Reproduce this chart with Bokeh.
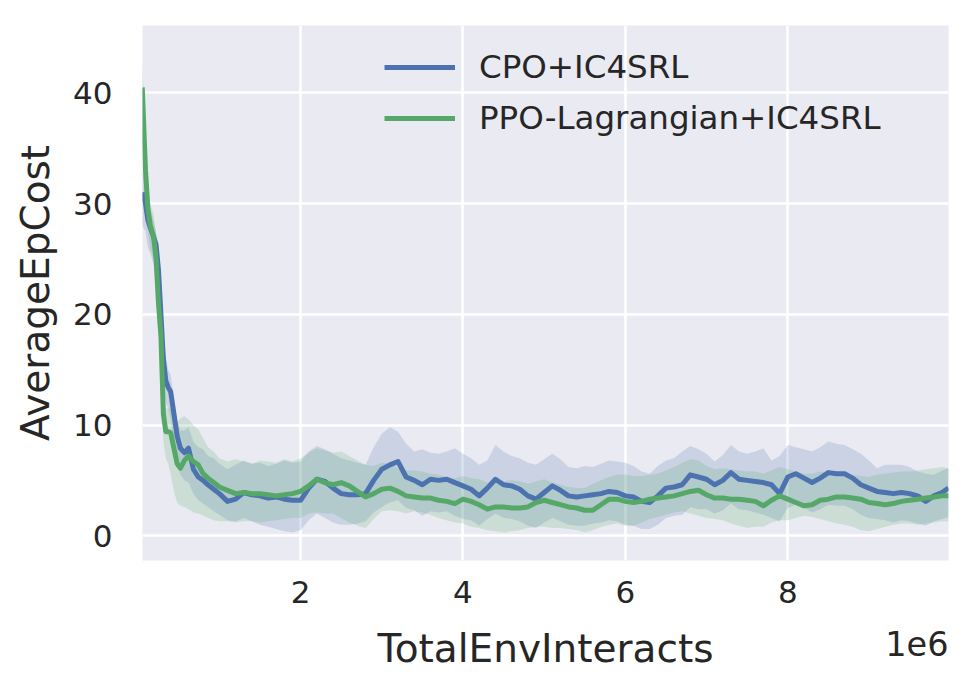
from bokeh.plotting import figure
from bokeh.models import FixedTicker, Legend, LegendItem, Label
from bokeh.embed import file_html
from bokeh.resources import INLINE

# TotalEnvInteracts (units of 1e6)
x = [0.05, 0.09, 0.12, 0.15, 0.19, 0.22, 0.25, 0.28, 0.31, 0.34, 0.37, 0.40,
     0.44, 0.48, 0.52, 0.57, 0.62, 0.68, 0.74, 0.80, 0.86, 0.93, 1.0,
     1.1, 1.2, 1.3, 1.4, 1.5, 1.6, 1.7, 1.8, 1.9, 2.0,
     2.1, 2.2, 2.3, 2.4, 2.5, 2.6, 2.7, 2.8, 2.9, 3.0,
     3.1, 3.2, 3.3, 3.4, 3.5, 3.6, 3.7, 3.8, 3.9, 4.0,
     4.1, 4.2, 4.3, 4.4, 4.5, 4.6, 4.7, 4.8, 4.9, 5.0,
     5.1, 5.2, 5.3, 5.4, 5.5, 5.6, 5.7, 5.8, 5.9, 6.0,
     6.1, 6.2, 6.3, 6.4, 6.5, 6.6, 6.7, 6.8, 6.9, 7.0,
     7.1, 7.2, 7.3, 7.4, 7.5, 7.6, 7.7, 7.8, 7.9, 8.0,
     8.1, 8.2, 8.3, 8.4, 8.5, 8.6, 8.7, 8.8, 8.9, 9.0,
     9.1, 9.2, 9.3, 9.4, 9.5, 9.6, 9.7, 9.8, 9.9, 9.98]

# CPO+IC4SRL
cpo_mean = [31, 30, 28.5, 27.8, 27, 26.3, 24, 20, 16, 14, 13.4, 13,
            11, 9, 7.9, 7.5, 7.9, 6, 5.3, 5.0, 4.6, 4.2, 3.8,
            3.1, 3.3, 3.9, 3.7, 3.6, 3.4, 3.5, 3.3, 3.2, 3.2,
            4.3, 5.1, 4.9, 4.3, 3.8, 3.7, 3.7, 3.8, 5.0, 6.0,
            6.4, 6.7, 5.3, 5.0, 4.6, 5.1, 5.0, 5.1, 4.8, 4.5,
            4.2, 3.6, 4.3, 5.1, 4.6, 4.5, 4.2, 3.6, 3.3, 3.9,
            4.5, 4.1, 3.6, 3.5, 3.6, 3.7, 3.8, 4.0, 3.9, 3.6,
            3.5, 3.1, 3.0, 3.6, 4.3, 4.4, 4.6, 5.5, 5.3, 5.1,
            4.6, 5.0, 5.7, 5.1, 5.0, 4.9, 4.8, 4.6, 3.8, 5.3,
            5.6, 5.2, 4.8, 5.2, 5.7, 5.6, 5.6, 5.2, 4.6, 4.3,
            4.0, 3.9, 3.8, 3.9, 3.8, 3.6, 3.1, 3.6, 3.9, 4.3]
cpo_hi = [33, 32, 30.5, 29.5, 28.5, 27.5, 25.5, 22, 18, 16, 15, 14.5,
          12.5, 10.5, 9.5, 9.5, 9.8, 8.5, 8.0, 7.8, 7.2, 7.0, 6.5,
          6.0, 6.4, 6.8, 6.5, 6.6, 6.3, 6.5, 6.8, 6.6, 6.7,
          7.6, 8.1, 7.8, 7.4, 7.0, 6.8, 6.6, 6.4, 8.0, 9.2,
          9.8, 9.4, 8.3, 7.6, 7.8, 7.5, 7.4, 7.6, 7.9, 7.4,
          7.0, 6.4, 6.8, 8.2, 7.6, 7.2, 7.0, 6.6, 6.4, 6.9,
          7.4, 6.9, 6.2, 6.1, 6.3, 6.2, 6.5, 6.8, 6.7, 6.6,
          6.3, 5.8, 5.6, 6.3, 6.8, 7.0, 7.6, 8.1, 7.8, 7.4,
          6.7, 7.3, 8.2, 7.6, 7.4, 7.6, 7.9, 6.8, 7.2, 8.2,
          8.0, 7.8, 7.6, 8.0, 8.5, 8.3, 8.2, 7.8, 7.4, 6.8,
          6.1, 6.4, 6.4, 6.4, 6.2, 5.8, 5.6, 5.5, 5.9, 6.1]
cpo_lo = [28, 27.5, 26, 25.5, 24.5, 23, 21, 17, 13.5, 12, 11.5, 10.5,
          8.5, 6.5, 5.5, 5, 4.8, 3.8, 3.2, 2.9, 2.6, 2.2, 1.9,
          1.4, 1.3, 1.6, 1.3, 1.0, 0.8, 0.6, 0.4, 0.3, 0.5,
          1.4, 2.0, 1.6, 1.2, 1.0, 1.0, 1.1, 1.3, 2.1, 2.6,
          3.0, 3.2, 2.5, 2.3, 1.8, 2.2, 2.1, 2.2, 1.8, 1.5,
          1.4, 0.9, 1.5, 2.0, 1.6, 1.5, 1.3, 0.9, 0.7, 1.2,
          1.6, 1.3, 1.0, 0.9, 0.9, 1.1, 1.2, 1.4, 1.3, 1.0,
          0.9, 0.6, 0.6, 1.0, 1.6, 1.8, 1.9, 2.6, 2.4, 2.4,
          2.0, 2.3, 2.9, 2.4, 2.3, 2.1, 1.9, 1.6, 1.3, 2.5,
          2.8, 2.5, 2.1, 2.4, 2.8, 2.7, 2.7, 2.4, 1.9, 1.6,
          1.5, 1.4, 1.2, 1.4, 1.3, 1.1, 0.9, 1.3, 1.5, 1.7]

# PPO-Lagrangian+IC4SRL
ppo_mean = [40.5, 33, 29.5, 28, 27, 25, 21, 18, 11, 9.4, 9.4, 9.3,
            7.9, 6.5, 6.1, 6.8, 7.2, 6.7, 6.4, 5.6, 5.2, 4.8, 4.4,
            4.1, 3.8, 3.9, 3.8, 3.8, 3.7, 3.6, 3.7, 3.8, 4.0,
            4.5, 5.1, 4.8, 4.6, 4.8, 4.5, 4.0, 3.5, 3.8, 4.2,
            4.3, 4.0, 3.6, 3.5, 3.4, 3.4, 3.2, 3.1, 2.9, 3.3,
            3.1, 2.8, 2.4, 2.6, 2.6, 2.5, 2.5, 2.6, 3.0, 3.2,
            3.0, 2.8, 2.6, 2.5, 2.3, 2.3, 2.8, 3.3, 3.3, 3.1,
            3.0, 3.1, 3.3, 3.4, 3.5, 3.6, 3.8, 4.0, 4.1, 3.7,
            3.4, 3.4, 3.3, 3.3, 3.2, 3.1, 2.7, 3.2, 3.6, 3.3,
            3.0, 2.7, 2.8, 3.2, 3.3, 3.5, 3.5, 3.4, 3.3, 3.0,
            2.9, 2.8, 2.9, 3.1, 3.2, 3.3, 3.4, 3.5, 3.6, 3.6]
ppo_hi = [43, 36, 32, 30, 29, 27, 23, 20, 13, 11.5, 11.5, 11.5,
          10.5, 10.2, 10.6, 10.8, 10.5, 10.0, 9.6, 8.8, 8.0, 7.6, 7.0,
          6.7, 6.9, 6.7, 6.5, 6.8, 6.7, 6.6, 6.9, 6.7, 7.0,
          7.5, 7.9, 7.7, 7.5, 7.6, 7.2, 6.8, 6.4, 6.3, 6.6,
          6.5, 6.1, 5.9, 5.9, 5.8, 5.6, 5.5, 5.3, 5.2, 5.4,
          5.2, 5.1, 4.8, 4.9, 4.9, 5.0, 4.9, 4.7, 4.9, 5.1,
          4.8, 4.6, 4.4, 4.3, 4.3, 4.7, 5.0, 5.3, 5.5, 5.5,
          5.4, 5.4, 5.5, 5.6, 5.9, 6.2, 6.6, 6.9, 6.8, 6.3,
          6.0, 6.1, 6.0, 5.9, 5.8, 5.8, 5.6, 5.9, 6.2, 6.0,
          5.8, 5.6, 5.6, 5.8, 5.7, 5.6, 5.5, 5.5, 5.4, 5.3,
          5.5, 5.6, 5.7, 5.8, 5.8, 5.9, 6.0, 6.1, 6.2, 6.1]
ppo_lo = [37, 30.5, 27.5, 26, 25, 23, 19, 16, 8.5, 7, 6.5, 5.5,
          4.0, 3.0, 2.7, 2.6, 2.4, 2.1, 2.0, 1.8, 1.6, 1.4, 1.3,
          1.3, 1.2, 1.3, 1.3, 1.2, 1.3, 1.4, 1.5, 1.6, 1.6,
          2.0, 2.1, 2.0, 2.0, 1.6, 1.2, 0.9, 0.7, 1.5, 2.2,
          2.3, 2.2, 2.0, 2.2, 2.1, 1.9, 1.6, 1.4, 1.2, 1.1,
          0.8, 0.7, 0.5, 0.4, 0.3, 0.4, 0.5, 0.7, 0.8, 0.8,
          0.7, 0.7, 0.6, 0.5, 0.3, 0.5, 0.8, 1.0, 1.1, 0.9,
          0.9, 1.2, 1.5, 1.7, 1.9, 2.1, 2.2, 2.0, 1.8, 1.6,
          1.5, 1.4, 1.1, 0.9, 0.7, 0.8, 0.8, 1.2, 1.4, 1.4,
          1.6, 1.8, 1.7, 1.5, 1.3, 1.1, 1.0, 0.8, 0.5, 0.4,
          0.6, 0.8, 1.0, 1.1, 1.1, 1.0, 1.1, 1.2, 1.3, 1.3]

x_ticks = [2, 4, 6, 8]
y_ticks = [0, 10, 20, 30, 40]
series_names = ["CPO+IC4SRL", "PPO-Lagrangian+IC4SRL"]
colors = ["#4c72b0", "#55a868"]

FONT = "DejaVu Sans"
TXT = "#262626"

p = figure(width=960, height=685, output_backend="svg", toolbar_location=None,
           x_range=(0.053, 9.98), y_range=(-2.24, 46.09),
           min_border_left=142, min_border_right=12, min_border_top=20,
           min_border_bottom=125)
p.background_fill_color = "#eaeaf2"
p.border_fill_color = "white"
p.outline_line_color = None

for ax in (p.xaxis, p.yaxis):
    ax.axis_line_color = None
    ax.major_tick_line_color = None
    ax.minor_tick_line_color = None
    ax.major_label_text_font = FONT
    ax.major_label_text_font_size = "31px"
    ax.major_label_text_color = TXT
    ax.axis_label_text_font = FONT
    ax.axis_label_text_font_size = "39px"
    ax.axis_label_text_font_style = "normal"
    ax.axis_label_text_color = TXT

p.xaxis.ticker = FixedTicker(ticks=x_ticks)
p.yaxis.ticker = FixedTicker(ticks=y_ticks)
p.xaxis.major_label_standoff = 14
p.yaxis.major_label_standoff = 24
p.xaxis.axis_label = "TotalEnvInteracts"
p.yaxis.axis_label = "AverageEpCost"
p.xaxis.axis_label_standoff = 20
p.yaxis.axis_label_standoff = 12

p.xgrid.ticker = FixedTicker(ticks=x_ticks)
p.ygrid.ticker = FixedTicker(ticks=y_ticks)
for g in (p.xgrid, p.ygrid):
    g.grid_line_color = "white"
    g.grid_line_width = 2.6

p.varea(x=x, y1=cpo_lo, y2=cpo_hi, fill_color=colors[0], fill_alpha=0.2)
p.varea(x=x, y1=ppo_lo, y2=ppo_hi, fill_color=colors[1], fill_alpha=0.2)
l1 = p.line(x, cpo_mean, line_color=colors[0], line_width=5, line_join="round")
l2 = p.line(x, ppo_mean, line_color=colors[1], line_width=5, line_join="round")

legend = Legend(items=[LegendItem(label=series_names[0], renderers=[l1]),
                       LegendItem(label=series_names[1], renderers=[l2])],
                location=(242, 422))
legend.background_fill_alpha = 0
legend.border_line_alpha = 0
legend.padding = 0
legend.margin = 0
legend.spacing = 11
legend.glyph_width = 71
legend.glyph_height = 40
legend.label_height = 40
legend.label_standoff = 24
legend.label_text_font = FONT
legend.label_text_font_size = "32.5px"
legend.label_text_color = TXT
p.add_layout(legend)

# scale-offset text; held in a side panel so it is not clipped to the frame
offset_label = Label(x=9.98, y=-618, x_units="data", y_units="screen",
                     text="1e6", text_align="right",
                     text_baseline="middle", text_font=FONT,
                     text_font_size="33.5px", text_color=TXT)
p.add_layout(offset_label, "above")

open("out.html", "w").write(file_html(p, INLINE))
